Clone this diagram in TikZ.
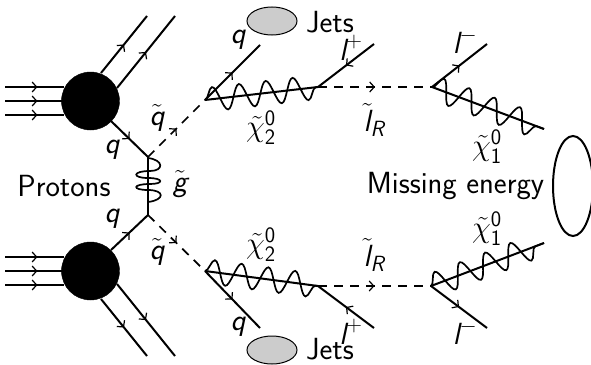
\RequirePackage{fix-cm}
\documentclass[tikz,border=0pt]{standalone}
\usepackage{amsmath}
\usepackage{fontspec}
\setsansfont{Latin Modern Sans}
\usetikzlibrary{decorations.pathmorphing,decorations.markings,arrows.meta}
\DeclareMathSizes{30.6}{30.6}{22}{16}
\newcommand{\sfi}[1]{\text{\sffamily\itshape #1}}
\newcommand{\sfu}[1]{\text{\sffamily #1}}
\begin{document}
\begin{tikzpicture}[x=1pt,y=-1pt,
  every node/.style={font=\fontsize{30.6}{34}\selectfont\sffamily,inner sep=0pt},
  fermion/.style={line width=2pt,postaction={decorate},decoration={markings,mark=at position 0.5 with {\arrow[line width=1.2pt]{Straight Barb[length=4.5pt,width=10pt]}}}},
  beam/.style={line width=1.7pt,postaction={decorate},decoration={markings,mark=at position 0.55 with {\arrow[line width=1.2pt]{Straight Barb[length=4.5pt,width=10pt]}}}},
  scalar/.style={line width=1.7pt,dash pattern=on 9pt off 7pt,postaction={decorate},decoration={markings,mark=at position 0.5 with {\arrow[solid,line width=1.2pt]{Straight Barb[length=4.5pt,width=10pt]}}}},
  gaugino/.style={line width=2pt},
  wave/.style={line width=1.7pt,decorate,decoration={snake,segment length=27pt,amplitude=12pt}},
  glu/.style={line width=1.7pt},
  blob/.style={circle,fill=black,draw=black,minimum size=58pt},
  ]
\useasboundingbox (0,0) rectangle (591,364);
% blobs
\node[blob] (b1) at (90.5,101) {};
\node[blob] (b2) at (90.5,271) {};
% incoming
\foreach \n/\y in {1/87,2/101,3/115}{\coordinate (it\n) at (5,\y); \coordinate (ie\n) at (64,\y); \draw[beam] (it\n) -- (ie\n);}
\foreach \n/\y in {1/257,2/271,3/285}{\coordinate (jt\n) at (5,\y); \coordinate (je\n) at (64,\y); \draw[beam] (jt\n) -- (je\n);}
% spectators
\coordinate (s1a) at (101,73); \coordinate (s1b) at (147,16);
\coordinate (s2a) at (117,88); \coordinate (s2b) at (175,16);
\coordinate (s3a) at (147,356); \coordinate (s3b) at (101,299);
\coordinate (s4a) at (175,356); \coordinate (s4b) at (117,284);
\draw[fermion] (s1a) -- (s1b); \draw[fermion] (s2a) -- (s2b);
\draw[fermion] (s3b) -- (s3a); \draw[fermion] (s4b) -- (s4a);
% vertices
\coordinate (g1) at (148,157); \coordinate (g2) at (148,215);
\coordinate (q1) at (111,121); \coordinate (q2) at (111,250);
\coordinate (v1) at (205,100); \coordinate (v2) at (205,271);
\coordinate (w1) at (318,87);  \coordinate (w2) at (318,286);
\coordinate (x1) at (432,87);  \coordinate (x2) at (431,286);
\draw[fermion] (q1) -- (g1);
\draw[fermion] (q2) -- (g2);
\draw[line width=1.7pt] (g1) -- (g2);
\draw[glu] (148,158) .. controls (164,160) and (164,171) .. (150,171)
  .. controls (132,171) and (132,178) .. (148,178)
  .. controls (164,178) and (164,184) .. (150,184)
  .. controls (132,184) and (132,190) .. (148,190)
  .. controls (165,190) and (165,200) .. (148,202);
\draw[scalar] (g1) -- (v1);
\draw[scalar] (g2) -- (v2);
\draw[gaugino] (v1) -- (w1);
\draw[gaugino] (v2) -- (w2);
\draw[wave] (v1) -- (w1);
\draw[wave] (v2) -- (w2);
\draw[scalar] (w1) -- (x1);
\draw[scalar] (w2) -- (x2);
\coordinate (qe1) at (260,45); \coordinate (qe2) at (260,328);
\coordinate (le1) at (374,44); \coordinate (le2) at (374,328);
\coordinate (me1) at (487,44); \coordinate (me2) at (487,328);
\coordinate (ne1) at (544,129); \coordinate (ne2) at (544,243);
\draw[fermion] (v1) -- (qe1);
\draw[fermion] (v2) -- (qe2);
\draw[fermion] (le1) -- (w1);
\draw[fermion] (le2) -- (w2);
\draw[fermion] (x1) -- (me1);
\draw[fermion] (x2) -- (me2);
\draw[gaugino] (x1) -- (ne1);
\draw[gaugino] (x2) -- (ne2);
\draw[wave] (x1) -- (ne1);
\draw[wave] (x2) -- (ne2);
% ellipses
\draw[line width=1pt,fill=black!20] (272,21) ellipse [x radius=25,y radius=14];
\draw[line width=1pt,fill=black!20] (272,350) ellipse [x radius=25,y radius=14];
\draw[line width=2pt] (573,186) ellipse [x radius=20,y radius=50];
% labels
\node (jets1) at (330,22) {Jets};
\node (jets2) at (330,349) {Jets};
\node (prot) at (64,186) {Protons};
\node (miss) at (455.5,186) {Missing energy};
\node (lq1) at (238,40) {$\sfi{q}$};
\node (lq2) at (238,327) {$\sfi{q}$};
\node (lq3) at (112,150) {$\sfi{q}$};
\node (lq4) at (112,219) {$\sfi{q}$};
\node (ls1) at (157,118) {$\tilde{\sfi{q}}$};
\node (ls2) at (157,252) {$\tilde{\sfi{q}}$};
\node (lg) at (180,184) {$\tilde{\sfi{g}}$};
\node (c21) at (261,128) {$\tilde\chi^{\sfu{0}}_{\sfu{2}}$};
\node (c22) at (261,245) {$\tilde\chi^{\sfu{0}}_{\sfu{2}}$};
\node (c11) at (487,147) {$\tilde\chi^{\sfu{0}}_{\sfu{1}}$};
\node (c12) at (487,229) {$\tilde\chi^{\sfu{0}}_{\sfu{1}}$};
\node (lp1) at (351,48) {$\sfi{l}^{+}$};
\node (lp2) at (351,332) {$\sfi{l}^{+}$};
\node (lm1) at (465,41) {$\sfi{l}^{-}$};
\node (lm2) at (465,332) {$\sfi{l}^{-}$};
\node (lr1) at (374,120) {$\tilde{\sfi{l}}_{\sfi{R}}$};
\node (lr2) at (374,255) {$\tilde{\sfi{l}}_{\sfi{R}}$};
\end{tikzpicture}
\end{document}
